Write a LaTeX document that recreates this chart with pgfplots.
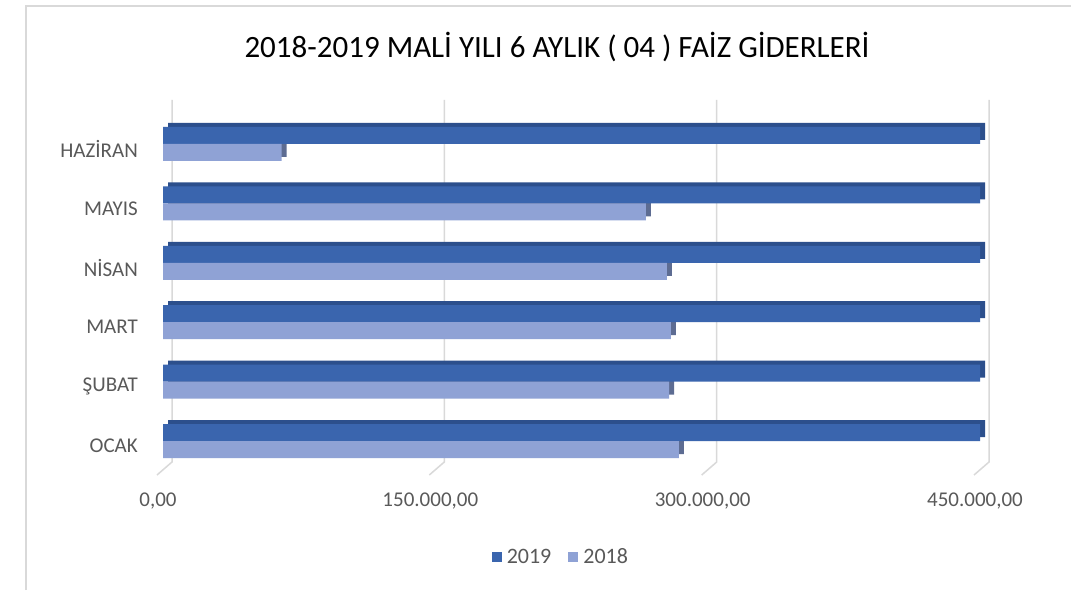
\documentclass[border=0pt]{standalone}
\usepackage{pgfplots}
\pgfplotsset{compat=1.18}
\usepackage{fontspec}
\setmainfont{Carlito}
\definecolor{c19}{HTML}{3A65AE}
\definecolor{c19d}{HTML}{2C4F8C}
\definecolor{c18}{HTML}{8FA2D5}
\definecolor{c18d}{HTML}{5D6C92}
\definecolor{gridc}{HTML}{D9D9D9}
\definecolor{txt}{HTML}{595959}
\pgfplotstableread{
y v2019 v2018
0 450000 284200
1 450000 278700
2 450000 279800
3 450000 277500
4 450000 266000
5 450000 65400
}\data
\begin{document}
\begin{tikzpicture}
\useasboundingbox (0,0) rectangle (1071pt,590pt);
\fill[white] (0,0) rectangle (1071pt,590pt);
\draw[gridc, line width=2pt] (26pt,0pt) -- (26pt,584pt) -- (1071pt,584pt);
\node[font=\fontsize{31}{36}\selectfont, text=black] at (557pt,543pt) {2018-2019 MALİ YILI 6 AYLIK ( 04 ) FAİZ GİDERLERİ};
\foreach \xx in {163,435.3,707.7,980} {
  \draw[gridc, line width=1.5pt] ({\xx pt+9pt},490pt) -- ({\xx pt+9pt},128pt) -- ({\xx pt-6pt},115pt);
}
\begin{axis}[
  at={(163pt,125pt)}, anchor=south west,
  width=817pt, height=365pt, scale only axis,
  xmin=0, xmax=450000, ymin=-0.404, ymax=5.74,
  clip=false, scaled x ticks=false,
  axis line style={draw=none},
  major tick length=0pt, tick style={draw=none},
  xtick={0,150000,300000,450000},
  xticklabels={{0,00},{150.000,00},{300.000,00},{450.000,00}},
  ytick={0,1,2,3,4,5},
  yticklabels={OCAK,ŞUBAT,MART,NİSAN,MAYIS,HAZİRAN},
  ticklabel style={font=\fontsize{21}{24}\selectfont, text=txt},
  xticklabel style={anchor=center, yshift=-36pt, xshift=-5pt},
  yticklabel style={anchor=east, inner sep=0pt, xshift=-25pt, yshift=-5pt},
  bar width=17pt,
  legend style={draw=none, fill=none, legend columns=-1,
    at={(axis description cs:0.487,-0.252)}, anchor=center,
    font=\fontsize{22}{24}\selectfont, text=txt,
    /tikz/every even column/.append style={column sep=15pt}},
  legend image code/.code={\fill[#1] (0pt,-5pt) rectangle (10pt,5pt); \path (13pt,0pt);},
]
\addplot[xbar, bar shift=8.5pt, fill=c19d, draw=none, xshift=5pt, yshift=4pt, forget plot] table[x=v2019, y=y] {\data};
\addplot[xbar, bar shift=-8.5pt, fill=c18d, draw=none, xshift=5pt, yshift=4pt, forget plot] table[x=v2018, y=y] {\data};
\addplot[xbar, bar shift=8.5pt, fill=c19, draw=none] table[x=v2019, y=y] {\data};
\addplot[xbar, bar shift=-8.5pt, fill=c18, draw=none] table[x=v2018, y=y] {\data};
\legend{2019,2018}
\end{axis}
\end{tikzpicture}
\end{document}
